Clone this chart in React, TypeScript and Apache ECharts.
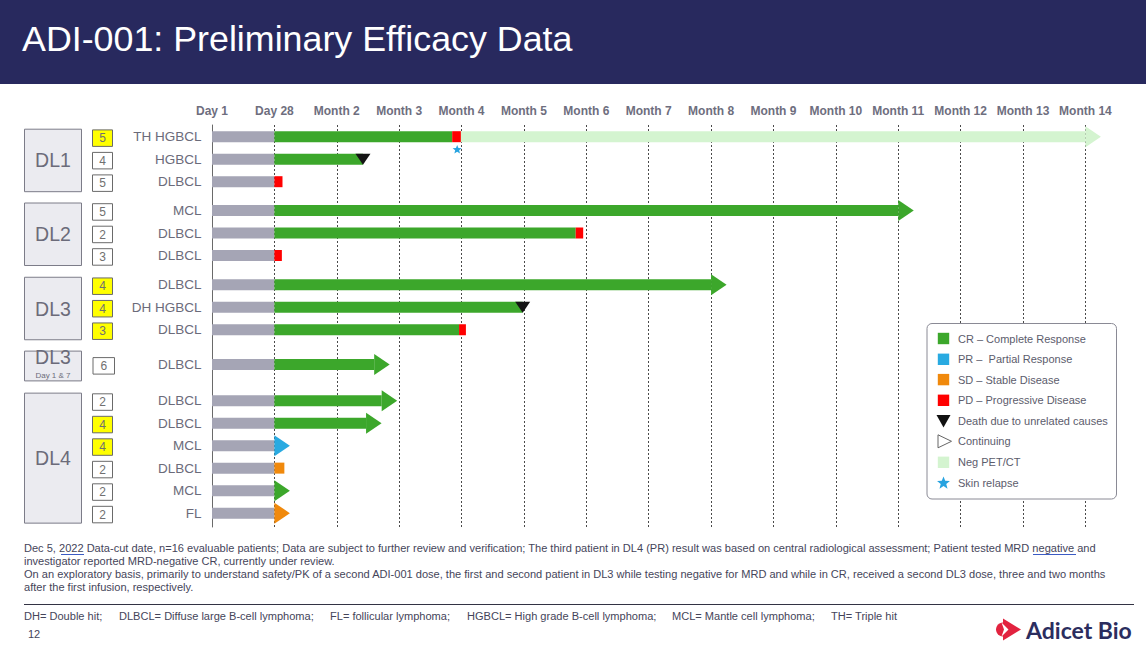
import { useEffect, useRef } from "react";
import * as echarts from "echarts";

// ---------------- DATA ----------------
const TIME_LABELS = ["Day 1", "Day 28", "Month 2", "Month 3", "Month 4", "Month 5", "Month 6", "Month 7", "Month 8", "Month 9", "Month 10", "Month 11", "Month 12", "Month 13", "Month 14"];
const DOSE_LEVELS = ["DL1", "DL2", "DL3", "DL3", "DL4"];
const DOSE_NOTES = ["", "", "", "Day 1 & 7", ""];
const GROUP_SIZES = [3, 3, 3, 1, 6];
const DIAGNOSES = ["TH HGBCL", "HGBCL", "DLBCL", "MCL", "DLBCL", "DLBCL", "DLBCL", "DH HGBCL", "DLBCL", "DLBCL", "DLBCL", "DLBCL", "MCL", "DLBCL", "MCL", "FL"];
const PRIOR_LINES = [5, 4, 5, 5, 2, 3, 4, 4, 3, 6, 2, 4, 4, 2, 2, 2];
const HIGHLIGHTED = [1, 0, 0, 0, 0, 0, 1, 1, 1, 0, 0, 1, 1, 0, 0, 0];

// [patient, start, end, status]  (x unit: 0 = Day 1, 1 = Day 28, n = Month n)
const SEGMENTS: [number, number, number, string][] = [
  [0, 0, 1, "pre"], [0, 1, 3.85, "CR"], [0, 3.85, 3.99, "PD"], [0, 3.99, 14, "NEG"],
  [1, 0, 1, "pre"], [1, 1, 2.42, "CR"],
  [2, 0, 1, "pre"], [2, 1, 1.13, "PD"],
  [3, 0, 1, "pre"], [3, 1, 11, "CR"],
  [4, 0, 1, "pre"], [4, 1, 5.83, "CR"], [4, 5.83, 5.95, "PD"],
  [5, 0, 1, "pre"], [5, 1, 1.12, "PD"],
  [6, 0, 1, "pre"], [6, 1, 8, "CR"],
  [7, 0, 1, "pre"], [7, 1, 4.98, "CR"],
  [8, 0, 1, "pre"], [8, 1, 3.96, "CR"], [8, 3.96, 4.07, "PD"],
  [9, 0, 1, "pre"], [9, 1, 2.6, "CR"],
  [10, 0, 1, "pre"], [10, 1, 2.72, "CR"],
  [11, 0, 1, "pre"], [11, 1, 2.47, "CR"],
  [12, 0, 1, "pre"],
  [13, 0, 1, "pre"], [13, 1, 1.16, "SD"],
  [14, 0, 1, "pre"],
  [15, 0, 1, "pre"],
];
// [patient, at, status] – continuing arrow heads
const CONTINUING: [number, number, string][] = [
  [0, 14, "NEG"], [3, 11, "CR"], [6, 8, "CR"], [9, 2.6, "CR"], [10, 2.72, "CR"], [11, 2.47, "CR"],
  [12, 1, "PR"], [14, 1, "CR"], [15, 1, "SD"],
];
// [patient, at] – death due to unrelated causes
const DEATHS: [number, number][] = [[1, 2.42], [7, 4.98]];
// [patient, at] – skin relapse
const SKIN_RELAPSE: [number, number][] = [[0, 3.93]];

const LEGEND_LABELS = ["CR \u2013 Complete Response", "PR \u2013  Partial Response", "SD \u2013 Stable Disease", "PD \u2013 Progressive Disease", "Death due to unrelated causes", "Continuing", "Neg PET/CT", "Skin relapse"];

const TITLE = "ADI-001: Preliminary Efficacy Data";
const FOOTNOTES = [
  "Dec 5, 2022 Data-cut date, n=16 evaluable patients; Data are subject to further review and verification; The third patient in DL4 (PR) result was based on central radiological assessment; Patient tested MRD negative and",
  "investigator reported MRD-negative CR, currently under review.",
  "On an exploratory basis, primarily to understand safety/PK of a second ADI-001 dose, the first and second patient in DL3 while testing negative for MRD and while in CR, received a second DL3 dose, three and two months",
  "after the first infusion, respectively.",
];
const ABBREVIATIONS = ["DH= Double hit;", "DLBCL= Diffuse large B-cell lymphoma;", "FL= follicular lymphoma;", "HGBCL= High grade B-cell lymphoma;", "MCL= Mantle cell lymphoma;", "TH= Triple hit"];
const PAGE_NUMBER = "12";
const BRAND = "Adicet Bio";

// ---------------- STYLE / LAYOUT ----------------
const FONT = "'Liberation Sans', Arial, Helvetica, sans-serif";
const STATUS_KEYS = ["pre", "CR", "PR", "SD", "PD", "NEG"];
const STATUS_COLORS: Record<string, string> = {
  pre: "#a5a5b5", CR: "#3ca72b", PR: "#29aae1", SD: "#f0890c", PD: "#ff0000", NEG: "#d4f4d0",
};
const GROUP_OFFSETS = [0, 0.28, 0.58, 1.12, 1.73];
const ROW_PX = 22.5;
const GRID_TOP = 125;
const GRID_BOTTOM_Y = 527;
const ROW0_Y = 136.7;
const Y_MIN = (GRID_TOP - ROW0_Y) / ROW_PX;
const Y_MAX = (GRID_BOTTOM_Y - ROW0_Y) / ROW_PX;
const TEXT_GREY = "#6b6b7a";
const FOOT_SIZE = 11.05;

const groupOf: number[] = [];
GROUP_SIZES.forEach((n, g) => { for (let k = 0; k < n; k++) groupOf.push(g); });
const rowPos = (i: number) => i + GROUP_OFFSETS[groupOf[i]];
const groupFirst: number[] = [];
{
  let acc = 0;
  GROUP_SIZES.forEach((n) => { groupFirst.push(acc); acc += n; });
}

function starPoints(cx: number, cy: number, R: number, r: number) {
  const pts: number[][] = [];
  for (let k = 0; k < 10; k++) {
    const rad = k % 2 === 0 ? R : r;
    const a = -Math.PI / 2 + (k * Math.PI) / 5;
    pts.push([cx + rad * Math.cos(a), cy + rad * Math.sin(a)]);
  }
  return pts;
}

export default function App() {
  const ref = useRef<HTMLDivElement>(null);
  useEffect(() => {
    if (!ref.current) return;
    const chart = echarts.init(ref.current, undefined, { renderer: "svg" });

    const Z = 100;
    const legendChildren: any[] = [
      { type: "rect", z: Z, shape: { x: 927, y: 323.5, width: 189.5, height: 175.5, r: 5 }, style: { fill: "#fff", stroke: "#8a8a95", lineWidth: 1 } },
    ];
    const legendY = [338.5, 359.3, 379.6, 400.3, 421, 441.3, 462.3, 483.2];
    const squareColors = [STATUS_COLORS.CR, STATUS_COLORS.PR, STATUS_COLORS.SD, STATUS_COLORS.PD];
    LEGEND_LABELS.forEach((lab, k) => {
      const cy = legendY[k];
      const cx = 943.5;
      if (k < 4 || k === 6) {
        legendChildren.push({ type: "rect", z: Z + 1, shape: { x: cx - 5.7, y: cy - 5.7, width: 11.4, height: 11.4 }, style: { fill: k === 6 ? STATUS_COLORS.NEG : squareColors[k] } });
      } else if (k === 4) {
        legendChildren.push({ type: "polygon", z: Z + 1, shape: { points: [[cx - 7, cy - 6], [cx + 7, cy - 6], [cx, cy + 6.5]] }, style: { fill: "#111" } });
      } else if (k === 5) {
        legendChildren.push({ type: "polygon", z: Z + 1, shape: { points: [[cx - 5.5, cy - 6.5], [cx + 8, cy], [cx - 5.5, cy + 6.5]] }, style: { fill: "#fff", stroke: "#666", lineWidth: 1 } });
      } else if (k === 7) {
        legendChildren.push({ type: "polygon", z: Z + 1, shape: { points: starPoints(cx, cy, 6.8, 2.9) }, style: { fill: "#27a3e0" } });
      }
      legendChildren.push({ type: "text", z: Z + 1, style: { text: lab, x: 958, y: cy, verticalAlign: "middle", align: "left", fontSize: 11, fontFamily: FONT, fill: "#5c5c6c" } });
    });

    const footChildren: any[] = FOOTNOTES.map((t, k) => ({
      type: "text",
      z: Z,
      style: { text: t, x: 24, y: 548 + k * 13, verticalAlign: "middle", fontSize: FOOT_SIZE, fontFamily: FONT, fill: "#45455a" },
    }));
    const abbrevX = [24, 119, 330, 467, 672, 831];
    ABBREVIATIONS.forEach((t, k) => {
      footChildren.push({ type: "text", z: Z, style: { text: t, x: abbrevX[k], y: 616, verticalAlign: "middle", fontSize: FOOT_SIZE, fontFamily: FONT, fill: "#45455a" } });
    });

    const option: any = {
      animation: false,
      backgroundColor: "#ffffff",
      grid: { left: 212, right: 1146 - 1085.4, top: GRID_TOP, bottom: 657 - GRID_BOTTOM_Y, containLabel: false },
      xAxis: {
        type: "value",
        position: "top",
        min: 0,
        max: 14,
        interval: 1,
        axisLine: { show: false },
        axisTick: { show: false },
        axisLabel: {
          formatter: (v: number) => TIME_LABELS[Math.round(v)] ?? "",
          color: "#6e6e7e",
          fontWeight: "bold",
          fontSize: 12,
          fontFamily: FONT,
          margin: 8,
          showMinLabel: true,
          showMaxLabel: true,
        },
        splitLine: { show: true, lineStyle: { color: "#4a4a4a", type: [2, 2], width: 1 } },
      },
      yAxis: {
        type: "value",
        inverse: true,
        min: Y_MIN,
        max: Y_MAX,
        axisLine: { show: true, lineStyle: { color: "#6a6a6a", width: 1 } },
        axisTick: { show: false },
        axisLabel: { show: false },
        splitLine: { show: false },
      },
      graphic: [
        { type: "rect", z: Z, shape: { x: 0, y: 0, width: 1146, height: 84 }, style: { fill: "#28295e" } },
        { type: "text", z: Z + 1, style: { text: TITLE, x: 22, y: 38.5, verticalAlign: "middle", fontSize: 35.8, fontFamily: FONT, fill: "#ffffff" } },
        ...legendChildren,
        ...footChildren,
        { type: "line", z: Z, shape: { x1: 61, y1: 554.5, x2: 84, y2: 554.5 }, style: { stroke: "#3b5bc4", lineWidth: 1 } },
        { type: "line", z: Z, shape: { x1: 1033, y1: 554.5, x2: 1076, y2: 554.5 }, style: { stroke: "#3b5bc4", lineWidth: 1 } },
        { type: "line", z: Z, shape: { x1: 24, y1: 604.5, x2: 1134, y2: 604.5 }, style: { stroke: "#333344", lineWidth: 1 } },
        { type: "text", z: Z, style: { text: PAGE_NUMBER, x: 28, y: 634, verticalAlign: "middle", fontSize: 11, fontFamily: FONT, fill: "#45455a" } },
        { type: "circle", z: Z, shape: { cx: 1003, cy: 629.5, r: 7 }, style: { fill: "#e2233f" } },
        { type: "polygon", z: Z, shape: { points: [[1003, 618.5], [1021, 629.5], [1003, 640.5]] }, style: { fill: "#e2233f" } },
        { type: "polygon", z: Z + 1, shape: { points: [[1001.5, 622.5], [1008.5, 629.5], [1001.5, 636.5], [1004, 629.5]] }, style: { fill: "#ffffff" } },
        { type: "text", z: Z, style: { text: BRAND, x: 1026, y: 629.5, verticalAlign: "middle", fontSize: 23, fontWeight: "bold", fontFamily: "Lato, 'Open Sans', sans-serif", fill: "#2b2d5e" } },
      ],
      series: [
        {
          name: "doseGroups",
          type: "custom",
          coordinateSystem: "cartesian2d",
          clip: false,
          encode: { x: 0, y: [1, 2] },
          data: GROUP_SIZES.map((n, g) => [0, rowPos(groupFirst[g]), rowPos(groupFirst[g] + n - 1), g]),
          renderItem: (_p: any, api: any) => {
            const g = api.value(3);
            const a = api.coord([0, api.value(1)]);
            const b = api.coord([0, api.value(2)]);
            const single = GROUP_SIZES[g] === 1;
            const top = single ? a[1] - 13.3 : a[1] - 7.5;
            const bottom = single ? a[1] + 16.5 : b[1] + 10;
            const children: any[] = [
              { type: "rect", shape: { x: 24.5, y: top, width: 57, height: bottom - top }, style: { fill: "#ebebf0", stroke: "#7c7c88", lineWidth: 1 } },
            ];
            if (single) {
              children.push({ type: "text", style: { text: DOSE_LEVELS[g], x: 53, y: top + 5.5, align: "center", verticalAlign: "middle", fontSize: 19.5, fontFamily: FONT, fill: TEXT_GREY } });
              children.push({ type: "text", style: { text: DOSE_NOTES[g], x: 53, y: top + 24, align: "center", verticalAlign: "middle", fontSize: 8, fontFamily: FONT, fill: TEXT_GREY } });
            } else {
              children.push({ type: "text", style: { text: DOSE_LEVELS[g], x: 53, y: (top + bottom) / 2, align: "center", verticalAlign: "middle", fontSize: 19.5, fontFamily: FONT, fill: TEXT_GREY } });
            }
            return { type: "group", children };
          },
        },
        {
          name: "patients",
          type: "custom",
          coordinateSystem: "cartesian2d",
          clip: false,
          encode: { x: 0, y: 1 },
          data: DIAGNOSES.map((_d, i) => [0, rowPos(i), i]),
          renderItem: (_p: any, api: any) => {
            const i = api.value(2);
            const p = api.coord([0, api.value(1)]);
            const y = p[1];
            const wide = GROUP_SIZES[groupOf[i]] === 1;
            const bx = wide ? 93 : 92.5;
            const bw = wide ? 21.5 : 20;
            return {
              type: "group",
              children: [
                { type: "text", style: { text: DIAGNOSES[i], x: 201.5, y, align: "right", verticalAlign: "middle", fontSize: 13.5, fontFamily: FONT, fill: TEXT_GREY } },
                { type: "rect", shape: { x: bx, y: y - 6.8, width: bw, height: 16.5 }, style: { fill: HIGHLIGHTED[i] ? "#ffff00" : "#ffffff", stroke: "#6a6a6a", lineWidth: 1 } },
                { type: "text", style: { text: String(PRIOR_LINES[i]), x: bx + bw / 2, y: y + 1.5, align: "center", verticalAlign: "middle", fontSize: 12, fontFamily: FONT, fill: "#707070" } },
              ],
            };
          },
        },
        {
          name: "segments",
          type: "custom",
          coordinateSystem: "cartesian2d",
          clip: false,
          encode: { x: [0, 1], y: 2 },
          data: SEGMENTS.map(([pt, s, e, st]) => [s, e, rowPos(pt), STATUS_KEYS.indexOf(st)]),
          renderItem: (_p: any, api: any) => {
            const yv = api.value(2);
            const a = api.coord([api.value(0), yv]);
            const b = api.coord([api.value(1), yv]);
            const color = STATUS_COLORS[STATUS_KEYS[api.value(3)]];
            return { type: "rect", shape: { x: a[0], y: a[1] - 5.5, width: b[0] - a[0], height: 11 }, style: { fill: color } };
          },
        },
        {
          name: "continuing",
          type: "custom",
          coordinateSystem: "cartesian2d",
          clip: false,
          encode: { x: 0, y: 1 },
          data: CONTINUING.map(([pt, at, st]) => [at, rowPos(pt), STATUS_KEYS.indexOf(st)]),
          renderItem: (_p: any, api: any) => {
            const p = api.coord([api.value(0), api.value(1)]);
            const color = STATUS_COLORS[STATUS_KEYS[api.value(2)]];
            return { type: "polygon", shape: { points: [[p[0], p[1] - 10.5], [p[0] + 15.5, p[1]], [p[0], p[1] + 10.5]] }, style: { fill: color } };
          },
        },
        {
          name: "deaths",
          type: "custom",
          coordinateSystem: "cartesian2d",
          clip: false,
          encode: { x: 0, y: 1 },
          data: DEATHS.map(([pt, at]) => [at, rowPos(pt)]),
          renderItem: (_p: any, api: any) => {
            const p = api.coord([api.value(0), api.value(1)]);
            return { type: "polygon", shape: { points: [[p[0] - 7.5, p[1] - 5.5], [p[0] + 7.5, p[1] - 5.5], [p[0], p[1] + 5.5]] }, style: { fill: "#151515" } };
          },
        },
        {
          name: "skinRelapse",
          type: "custom",
          coordinateSystem: "cartesian2d",
          clip: false,
          encode: { x: 0, y: 1 },
          data: SKIN_RELAPSE.map(([pt, at]) => [at, rowPos(pt)]),
          renderItem: (_p: any, api: any) => {
            const p = api.coord([api.value(0), api.value(1)]);
            return { type: "polygon", shape: { points: starPoints(p[0], p[1] + 13, 4.8, 2.1) }, style: { fill: "#27a3e0" } };
          },
        },
      ],
    };
    chart.setOption(option);
    return () => chart.dispose();
  }, []);

  return (
    <div
      ref={ref}
      style={{ position: "fixed", left: 0, top: 0, width: 1146, height: 657, background: "#ffffff" }}
    />
  );
}
